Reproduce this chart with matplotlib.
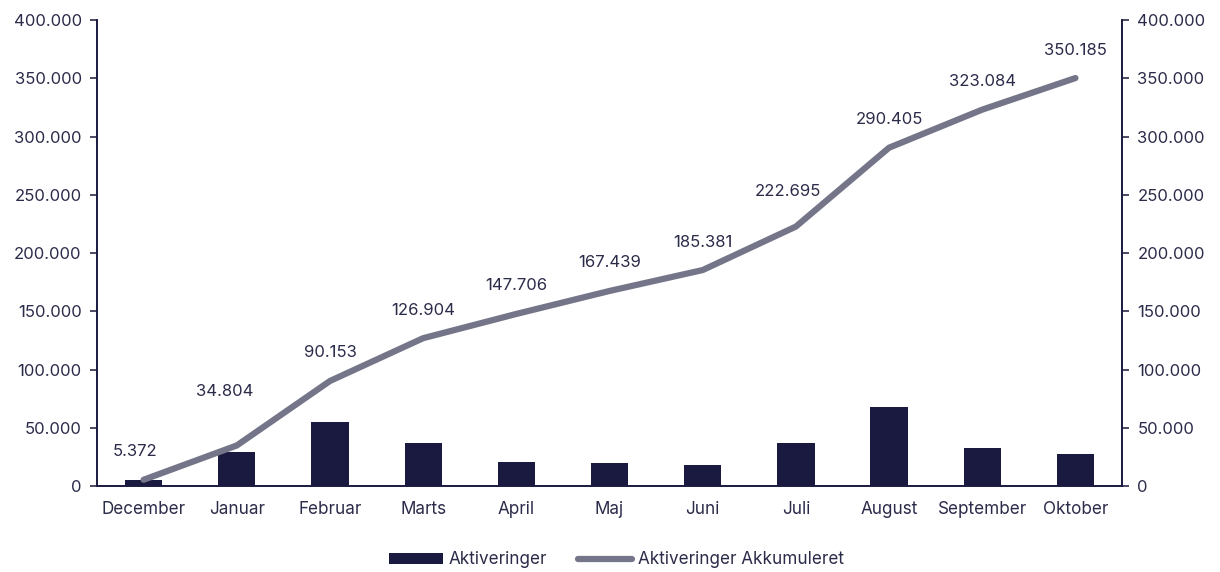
import matplotlib
matplotlib.use("Agg")
import matplotlib.pyplot as plt
from matplotlib.ticker import FuncFormatter

months = ["December", "Januar", "Februar", "Marts", "April", "Maj", "Juni",
          "Juli", "August", "September", "Oktober"]
aktiveringer = [5372, 29432, 55349, 36751, 20802, 19733, 17942, 37314, 67710, 32679, 27101]
akkumuleret = [5372, 34804, 90153, 126904, 147706, 167439, 185381, 222695, 290405, 323084, 350185]
yticks = [0, 50000, 100000, 150000, 200000, 250000, 300000, 350000, 400000]

plt.rcParams['font.family'] = ['Inter', 'DejaVu Sans']
text_color = "#2b2b4a"
bar_color = "#1a1a40"
line_color = "#75758a"

fig = plt.figure(figsize=(12.2, 5.72), dpi=100)
ax = fig.add_axes([0.0795, 0.1503, 0.8402, 0.8147])
ax2 = ax.twinx()

x = list(range(len(months)))
ax.bar(x, aktiveringer, width=0.4, color=bar_color, label="Aktiveringer", zorder=2)
ax2.plot(x, akkumuleret, color=line_color, linewidth=4.5, solid_capstyle="round",
         label="Aktiveringer Akkumuleret", zorder=3)

fmt = FuncFormatter(lambda v, p: f"{int(v):,}".replace(",", "."))
for a in (ax, ax2):
    a.set_ylim(0, 400000)
    a.set_yticks(yticks)
    a.yaxis.set_major_formatter(fmt)
    a.set_xlim(-0.5, len(months) - 0.5)
    a.tick_params(axis="y", labelsize=12, colors=text_color, length=5, width=1.2, pad=6)
    for s in a.spines.values():
        s.set_color(bar_color)
        s.set_linewidth(1.2)
    a.spines["top"].set_visible(False)

ax.set_xticks(x)
ax.set_xticklabels(months)
ax.tick_params(axis="x", labelsize=12.3, colors=text_color, length=0, pad=11)

# label placement tweaks (pixels) for crowded spots
dx_adj = {0: -9, 1: -12, 7: -8}
dy_adj = {1: 26, 7: 7}
for i, (xi, v) in enumerate(zip(x, akkumuleret)):
    ax2.annotate(f"{v:,}".replace(",", "."), (xi, v),
                 xytext=(dx_adj.get(i, 0), 28 + dy_adj.get(i, 0)),
                 textcoords="offset pixels", ha="center", va="center",
                 fontsize=12, color=text_color)

h1, l1 = ax.get_legend_handles_labels()
h2, l2 = ax2.get_legend_handles_labels()
fig.legend(h1 + h2, l1 + l2, loc="center", bbox_to_anchor=(0.505, 0.021), ncol=2,
           frameon=False, fontsize=12.3, handlelength=3.2, handleheight=0.6,
           handletextpad=0.3, columnspacing=1.8, labelcolor=text_color)

fig.savefig("out.png", dpi=100)
